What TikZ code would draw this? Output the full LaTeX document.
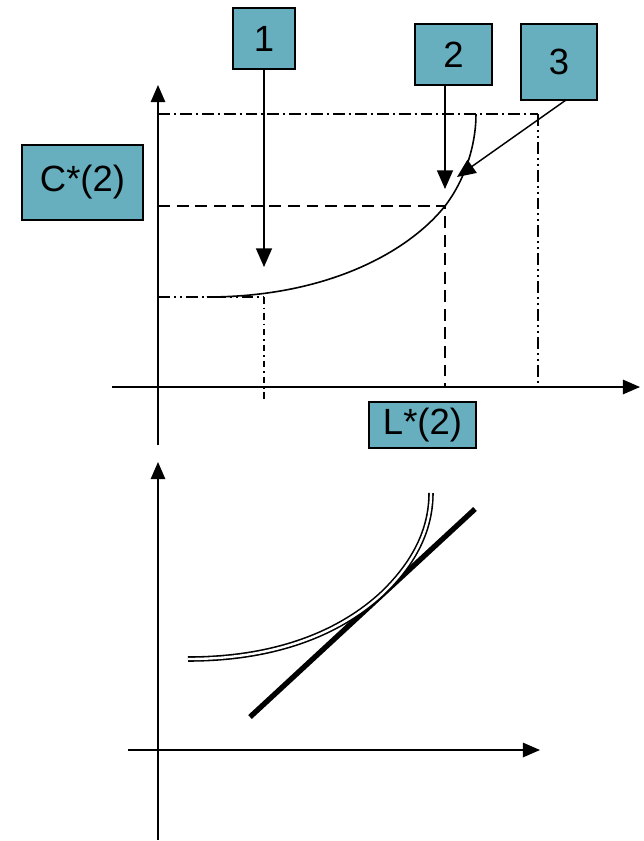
\documentclass[tikz,border=0pt]{standalone}
\usepackage{fontspec}
\setmainfont{Liberation Sans}
\usetikzlibrary{arrows.meta,positioning}
\definecolor{boxteal}{RGB}{103,175,190}

\begin{document}
\begin{tikzpicture}[x=0.0265cm, y=-0.0265cm,
  label box/.style={draw, line width=1.3pt, fill=boxteal, inner sep=0pt, font=\fontsize{27.5}{32}\selectfont},
  axis/.style={line width=1.1pt, -{Triangle[length=13pt, width=11pt]}},
  pointer/.style={line width=1.1pt, -{Triangle[length=14pt, width=12pt]}},
  guide/.style={line width=1.1pt},
  dashdot/.style={guide, dash pattern=on 9pt off 3pt on 1.5pt off 3pt},
  dashdotdot/.style={guide, dash pattern=on 9pt off 3pt on 1.5pt off 3pt on 1.5pt off 3pt},
  thindashdot/.style={guide, dash pattern=on 5pt off 3pt on 1pt off 3pt}
]
\useasboundingbox (0,0) rectangle (644,841);

% upper plot
\node[label box, minimum width=62*0.0265cm, minimum height=61*0.0265cm] (one) at (264,38.5) {1};
\node[label box, minimum width=77*0.0265cm, minimum height=61*0.0265cm] (two) at (453.5,54.5) {2};
\node[label box, minimum width=76*0.0265cm, minimum height=76*0.0265cm] (three) at (559,62) {3};
\node[label box, minimum width=121*0.0265cm, minimum height=75*0.0265cm] (cstar) at (82.5,182.5) {C*(2)};
\node[label box, minimum width=107*0.0265cm, minimum height=46*0.0265cm] (lstar) at (422.5,425) {L*(2)};

\coordinate (yo) at (158,445);
\coordinate (ytop) at (158,85);
\coordinate (xo) at (112,387);
\coordinate (xend) at (640,387);
\draw[axis] (yo) -- (ytop);
\draw[axis] (xo) -- (xend);

\coordinate (cmin) at (207,297);
\coordinate (cmid) at (445,206);
\coordinate (cmax) at (476,114);
\draw[dashdot] (158,114) -- (538,114);
\draw[dashdotdot] (538,114) -- (538,387);
\draw[dashed, guide, dash pattern=on 9pt off 5pt] (158,206) -- (cmid) -- (445,387);
\draw[dashdotdot] (158,297) -- (264,297);
\draw[thindashdot] (264,297) -- (264,400);

\draw[line width=1.2pt] (cmin) .. controls (330,297) and (410,250) .. (cmid)
  .. controls (465,180) and (476,145) .. (cmax);

\coordinate (tip1) at (264,267);
\coordinate (tip2) at (445,189);
\coordinate (tip3) at (457,177);
\draw[pointer] (one.south) -- (tip1);
\draw[pointer] (tip2 |- two.south) -- (tip2);
\draw[pointer] (566,100) -- (tip3);

% lower plot
\coordinate (ybot) at (158,840);
\coordinate (ytop2) at (158,462);
\coordinate (xo2) at (128,750);
\coordinate (xend2) at (540,750);
\draw[axis] (ybot) -- (ytop2);
\draw[axis] (xo2) -- (xend2);

\coordinate (lstart) at (250,717);
\coordinate (lend) at (475,509);
\draw[line width=4pt] (lstart) -- (lend);

\draw[double, line width=1.2pt, double distance=1.8pt] (188,659) .. controls (290,659) and (350,624) .. (383,593)
  .. controls (414,563) and (431,530) .. (431,493);
\end{tikzpicture}
\end{document}
